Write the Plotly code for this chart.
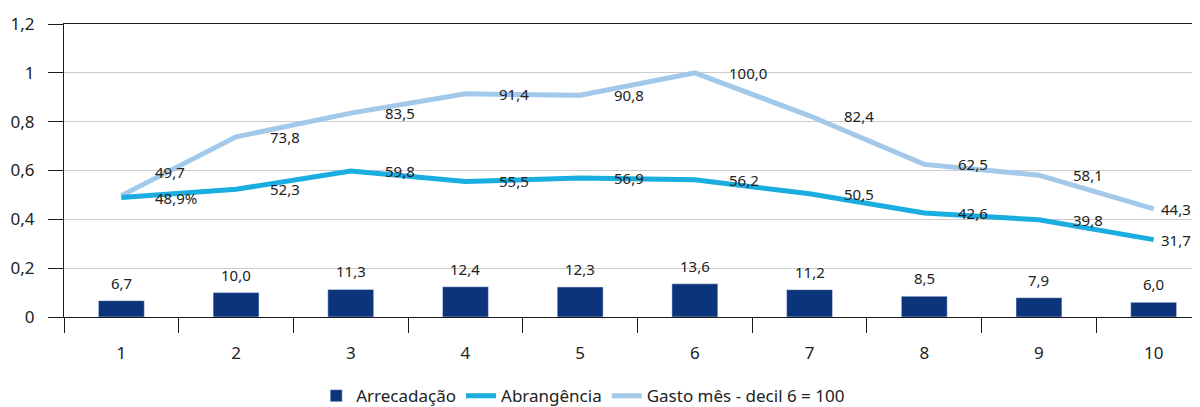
import plotly.graph_objects as go

decis = ["1", "2", "3", "4", "5", "6", "7", "8", "9", "10"]
arrecadacao = [6.7, 10.0, 11.3, 12.4, 12.3, 13.6, 11.2, 8.5, 7.9, 6.0]
abrangencia = [48.9, 52.3, 59.8, 55.5, 56.9, 56.2, 50.5, 42.6, 39.8, 31.7]
gasto_mes = [49.7, 73.8, 83.5, 91.4, 90.8, 100.0, 82.4, 62.5, 58.1, 44.3]

COR_BARRA = "#0b347a"
COR_ABR = "#19ade0"
COR_GASTO = "#a2c8ea"
FONTE = "Noto Sans"


def fmt(v):
    return f"{v:.1f}".replace(".", ",")


fig = go.Figure()
fig.add_trace(go.Bar(
    name="Arrecadação", x=decis, y=[v / 100 for v in arrecadacao],
    marker_color=COR_BARRA, width=0.4, legendrank=1
))
fig.add_trace(go.Scatter(
    name="Gasto mês - decil 6 = 100", x=decis, y=[v / 100 for v in gasto_mes],
    mode="lines", line=dict(color=COR_GASTO, width=5), legendrank=3
))
fig.add_trace(go.Scatter(
    name="Abrangência", x=decis, y=[v / 100 for v in abrangencia],
    mode="lines", line=dict(color=COR_ABR, width=5), legendrank=2
))

# rótulos (x pelo índice da categoria)
ultimo = len(decis) - 1
for i in range(len(decis)):
    dx = 5 if i == ultimo else 32
    fig.add_annotation(x=i, y=arrecadacao[i] / 100, text=fmt(arrecadacao[i]),
                       showarrow=False, yshift=18, font=dict(size=15))
    fig.add_annotation(x=i, y=gasto_mes[i] / 100, text=fmt(gasto_mes[i]),
                       showarrow=False, xanchor="left", xshift=dx,
                       yshift=24 if i == 0 else 0, font=dict(size=15))
    txt = fmt(abrangencia[i]) + ("%" if i == 0 else "")
    fig.add_annotation(x=i, y=abrangencia[i] / 100, text=txt,
                       showarrow=False, xanchor="left", xshift=dx, font=dict(size=15))

fig.update_layout(
    width=1192, height=399,
    margin=dict(l=56, r=0, t=16, b=90, autoexpand=False),
    paper_bgcolor="white", plot_bgcolor="white",
    font=dict(family=FONTE, size=16, color="#222222"),
    separators=",.",
    showlegend=True,
    legend=dict(orientation="h", x=0.222, xanchor="left", y=-0.27, yanchor="middle",
                font=dict(size=17), traceorder="normal", itemwidth=30),
    bargap=0.6,
)
fig.update_xaxes(
    type="category", range=[-0.5, 9.404], showgrid=False, showline=True,
    linecolor="#1a1a1a", linewidth=1,
    mirror=True, ticks="outside", tickson="boundaries", ticklen=15,
    tickcolor="#1a1a1a", tickfont=dict(size=17), ticklabelstandoff=21
)
fig.update_yaxes(
    range=[0, 1.2], dtick=0.2, showgrid=True, gridcolor="#cccccc", gridwidth=1,
    showline=True, linecolor="#1a1a1a", linewidth=1, ticks="outside", ticklen=15,
    tickcolor="#1a1a1a", tickfont=dict(size=17), zeroline=False, ticklabelstandoff=10
)

fig.write_html("out.html")
